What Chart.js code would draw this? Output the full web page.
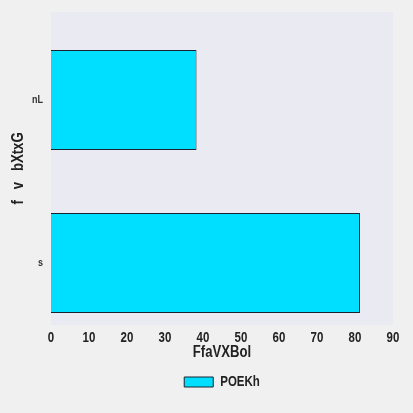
<!DOCTYPE html>
<html>
<head>
<meta charset="utf-8">
<script src="https://cdn.jsdelivr.net/npm/chart.js@4.4.0/dist/chart.umd.min.js"></script>
<style>
  html, body { margin: 0; padding: 0; background: #f0f0f0; }
  #wrap { width: 413px; height: 413px; }
</style>
</head>
<body>
<div id="wrap"><canvas id="c" width="413" height="413"></canvas></div>
<script>
const categories = ['nL', 's'];
const values = [38.3, 81.3];
const seriesName = 'POEKh';
const xTicks = [0, 10, 20, 30, 40, 50, 60, 70, 80, 90];
const xTitle = 'FfaVXBol';
const yTitle = 'f   v   bXtxG';

const FONT = "'Liberation Sans Narrow', 'Liberation Sans', sans-serif";
const NARROW = 0.82;

// condensed text rendering (narrow face not installed)
const narrowPlugin = {
  id: 'narrow',
  beforeInit(chart) {
    const ctx = chart.ctx;
    const ft = ctx.fillText.bind(ctx);
    const mt = ctx.measureText.bind(ctx);
    ctx.fillText = function (t, x, y) {
      ctx.save();
      ctx.translate(x, y);
      ctx.scale(NARROW, 1);
      ft(t, 0, 0);
      ctx.restore();
    };
    ctx.measureText = function (t) {
      const m = mt(t);
      return {
        width: m.width * NARROW,
        actualBoundingBoxAscent: m.actualBoundingBoxAscent,
        actualBoundingBoxDescent: m.actualBoundingBoxDescent,
        actualBoundingBoxLeft: m.actualBoundingBoxLeft * NARROW,
        actualBoundingBoxRight: m.actualBoundingBoxRight * NARROW
      };
    };
  }
};

const bgPlugin = {
  id: 'plotbg',
  beforeDraw(chart) {
    const {ctx, chartArea: a} = chart;
    ctx.save();
    ctx.fillStyle = '#eaeaf2';
    ctx.fillRect(a.left, a.top, a.right - a.left, a.bottom - a.top);
    ctx.restore();
  }
};

new Chart(document.getElementById('c'), {
  type: 'bar',
  data: {
    datasets: [{
      label: seriesName,
      data: categories.map((c, i) => ({ x: values[i], y: i })),
      backgroundColor: '#00dfff',
      borderColor: '#1a2230',
      borderWidth: 1,
      barPercentage: 0.613,
      categoryPercentage: 1
    }]
  },
  options: {
    indexAxis: 'y',
    responsive: false,
    animation: false,
    devicePixelRatio: 1,
    layout: { padding: { left: 0, right: 20, top: 12, bottom: 14 } },
    scales: {
      x: {
        type: 'linear',
        min: 0, max: 90,
        offset: false,
        grid: { display: false, drawTicks: false, tickLength: 0 },
        border: { display: false },
        afterBuildTicks(s) { s.ticks = xTicks.map(v => ({ value: v })); },
        ticks: {
          color: '#222',
          font: { family: FONT, size: 14, weight: 'bold' },
          padding: 5,
          maxRotation: 0
        },
        title: {
          display: true, text: xTitle, color: '#222',
          font: { family: FONT, size: 16, weight: 'bold' },
          padding: { top: 0, bottom: 3 }
        },
        afterFit(s) { s.height = 40; }
      },
      y: {
        type: 'linear',
        reverse: true,
        offset: false,
        min: -0.54, max: 1.38,
        grid: { display: false, drawTicks: false, tickLength: 0, offset: false },
        border: { display: false },
        afterBuildTicks(s) { s.ticks = categories.map((c, i) => ({ value: i })); },
        ticks: {
          color: '#333',
          font: { family: FONT, size: 11, weight: 'bold' },
          padding: 8,
          callback: (v) => categories[v] !== undefined ? categories[v] : ''
        },
        title: {
          display: true, text: yTitle, color: '#222',
          font: { family: FONT, size: 16, weight: 'bold' },
          padding: { top: 9, bottom: 0 }
        },
        afterFit(s) { s.width = 51; s.paddingTop = 0; s.paddingBottom = 0; }
      }
    },
    plugins: {
      legend: {
        position: 'bottom',
        fullSize: false,
        labels: {
          color: '#222',
          font: { family: FONT, size: 14, weight: 'bold' },
          boxWidth: 29, boxHeight: 10,
          padding: 10
        }
      },
      tooltip: { enabled: false }
    }
  },
  plugins: [narrowPlugin, bgPlugin]
});
</script>
</body>
</html>
